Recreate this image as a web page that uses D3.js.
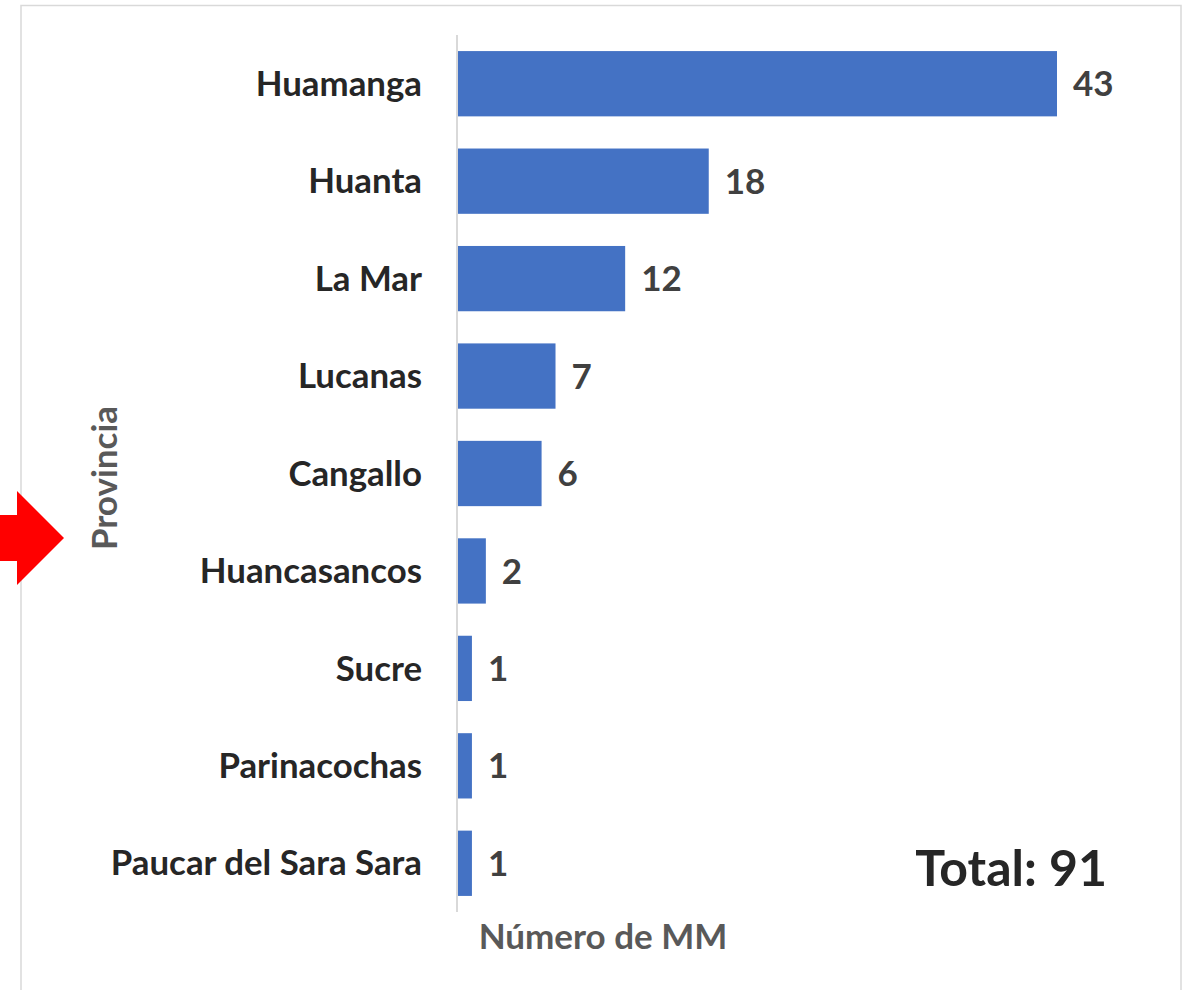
<!DOCTYPE html>
<html><head><meta charset="utf-8">
<script src="https://cdn.jsdelivr.net/npm/d3@7"></script>
<style>html,body{margin:0;padding:0;background:#fff;}svg{display:block;}</style>
</head><body>
<script>
const provinces = ["Huamanga","Huanta","La Mar","Lucanas","Cangallo","Huancasancos","Sucre","Parinacochas","Paucar del Sara Sara"];
const counts = [43,18,12,7,6,2,1,1,1];
const totalLabel = "Total: 91";
const xTitle = "Número de MM";
const yTitle = "Provincia";

const W = 1183, H = 990;
const svg = d3.select("body").append("svg").attr("width", W).attr("height", H);
const font = "Lato, 'Open Sans', sans-serif";

// frame
svg.append("rect").attr("x",21).attr("y",5.5).attr("width",1160).attr("height",1000)
  .attr("fill","none").attr("stroke","#d9d9d9").attr("stroke-width",1.5);

const x = d3.scaleLinear().domain([0,43]).range([458,1057]);
const y = d3.scaleBand().domain(provinces).range([35,912]).paddingInner(0.33).paddingOuter(0.165);

svg.append("g").selectAll("rect").data(provinces).join("rect")
  .attr("x", x(0)).attr("y", d=>y(d))
  .attr("width", (d,i)=>x(counts[i])-x(0)).attr("height", y.bandwidth())
  .attr("fill","#4472c4");

// axis line
svg.append("line").attr("x1",457).attr("x2",457).attr("y1",35).attr("y2",912)
  .attr("stroke","#d9d9d9").attr("stroke-width",2);

// category labels
svg.append("g").selectAll("text").data(provinces).join("text")
  .attr("x",422).attr("y",d=>y(d)+y.bandwidth()/2).attr("dy","0.35em")
  .attr("text-anchor","end").attr("font-family",font).attr("font-weight",700)
  .attr("font-size",34.8).attr("fill","#262626").text(d=>d);

// value labels
svg.append("g").selectAll("text").data(provinces).join("text")
  .attr("x",(d,i)=>x(counts[i])+16).attr("y",d=>y(d)+y.bandwidth()/2).attr("dy","0.36em")
  .attr("font-family",font).attr("font-weight",700)
  .attr("font-size",35).attr("fill","#404040").text((d,i)=>counts[i]);

// axis titles
svg.append("text").attr("x",603).attr("y",949).attr("text-anchor","middle")
  .attr("font-family",font).attr("font-weight",700).attr("font-size",35).attr("fill","#595959").text(xTitle);
svg.append("text").attr("transform","translate(117,478) rotate(-90)").attr("text-anchor","middle")
  .attr("font-family",font).attr("font-weight",700).attr("font-size",35).attr("fill","#595959").text(yTitle);

// total
svg.append("text").attr("x",1107).attr("y",886).attr("text-anchor","end")
  .attr("font-family",font).attr("font-weight",700).attr("font-size",50).attr("fill","#262626").text(totalLabel);

// red arrow
svg.append("polygon").attr("points","0,515 17,515 17,491 64,538 17,585 17,561 0,561").attr("fill","#ff0000");
</script>
</body></html>
